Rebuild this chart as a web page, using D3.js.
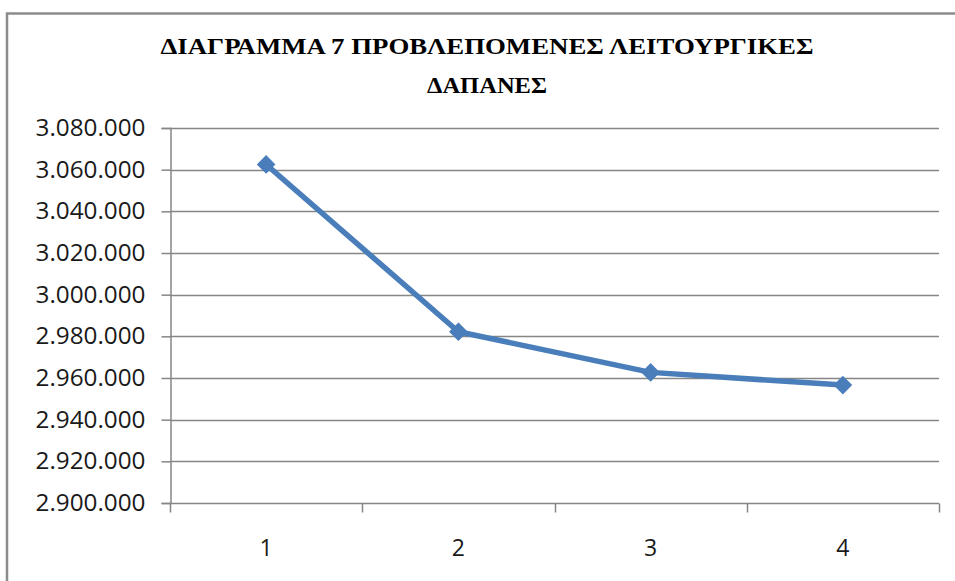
<!DOCTYPE html>
<html>
<head>
<meta charset="utf-8">
<script src="https://cdn.jsdelivr.net/npm/d3@7"></script>
<style>
  html, body { margin: 0; padding: 0; background: #fff; }
  svg { display: block; }
</style>
</head>
<body>
<svg id="chart" width="955" height="581"></svg>
<script>
// ---- data ----
const categories = ["1", "2", "3", "4"];
const values = [3062500, 2982200, 2962700, 2956600];
const yTicks = [2900000, 2920000, 2940000, 2960000, 2980000, 3000000, 3020000, 3040000, 3060000, 3080000];
const titleLines = ["ΔΙΑΓΡΑΜΜΑ 7 ΠΡΟΒΛΕΠΟΜΕΝΕΣ ΛΕΙΤΟΥΡΓΙΚΕΣ", "ΔΑΠΑΝΕΣ"];

// ---- layout ----
const svg = d3.select("#chart");
const plot = { left: 170, right: 939, top: 128, bottom: 503 };
const gridColor = "#868686";
const lineColor = "#4A7EBB";

// chart border (left + top visible)
svg.append("path")
  .attr("d", "M7,581 L7,13.5 L955,13.5")
  .attr("fill", "none")
  .attr("stroke", "#8c8c8c")
  .attr("stroke-width", 2.5);

// title
const title = svg.append("g").attr("font-family", "'Liberation Serif', 'Times New Roman', serif")
  .attr("font-weight", "bold").attr("font-size", 22.5).attr("fill", "#000");
const titleSpecs = [{ y: 53.5, w: 653 }, { y: 92.5, w: 120 }];
titleLines.forEach((t, i) => {
  title.append("text")
    .attr("x", 487).attr("y", titleSpecs[i].y)
    .attr("text-anchor", "middle")
    .attr("textLength", titleSpecs[i].w)
    .attr("lengthAdjust", "spacingAndGlyphs")
    .text(t);
});

// scales
const x = d3.scaleBand().domain(categories).range([plot.left, plot.right]).padding(0);
const y = d3.scaleLinear().domain([2900000, 3080000]).range([plot.bottom, plot.top]);
const locale = d3.formatLocale({ decimal: ",", thousands: ".", grouping: [3], currency: ["", "€"] });
const fmt = locale.format(",d");

// horizontal gridlines
svg.append("g").selectAll("line").data(yTicks.filter(d => d !== 2900000)).join("line")
  .attr("x1", plot.left).attr("x2", plot.right)
  .attr("y1", d => Math.round(y(d)) + 0.5).attr("y2", d => Math.round(y(d)) + 0.5)
  .attr("stroke", gridColor).attr("stroke-width", 1.5);

// y axis
const yAxis = svg.append("g")
  .attr("transform", `translate(${plot.left + 0.5},0)`)
  .call(d3.axisLeft(y).tickValues(yTicks).tickFormat(fmt).tickSize(9).tickPadding(16));
yAxis.select(".domain").attr("stroke", gridColor).attr("stroke-width", 1.5);
yAxis.selectAll(".tick line").attr("stroke", gridColor).attr("stroke-width", 1.5);
yAxis.selectAll(".tick text")
  .attr("font-family", "'Open Sans', 'DejaVu Sans', sans-serif")
  .attr("font-size", 23).attr("fill", "#1a1a1a")
  .attr("textLength", 110)
  .attr("lengthAdjust", "spacingAndGlyphs");

// x axis (ticks at category boundaries)
const xAxisG = svg.append("g").attr("transform", `translate(0,${plot.bottom + 0.5})`);
xAxisG.append("line")
  .attr("x1", plot.left).attr("x2", plot.right)
  .attr("stroke", gridColor).attr("stroke-width", 1.5);
const boundaries = categories.map(c => x(c)).concat([x(categories[categories.length - 1]) + x.bandwidth()]);
xAxisG.selectAll("line.tk").data(boundaries).join("line").attr("class", "tk")
  .attr("x1", d => Math.round(d) + 0.5).attr("x2", d => Math.round(d) + 0.5)
  .attr("y1", 0).attr("y2", 9)
  .attr("stroke", gridColor).attr("stroke-width", 1.5);
xAxisG.selectAll("text").data(categories).join("text")
  .attr("x", d => x(d) + x.bandwidth() / 2)
  .attr("y", 52)
  .attr("text-anchor", "middle")
  .attr("font-family", "'Open Sans', 'DejaVu Sans', sans-serif")
  .attr("font-size", 23).attr("fill", "#1a1a1a")
  .text(d => d);

// line series
const pts = categories.map((c, i) => [x(c) + x.bandwidth() / 2, y(values[i])]);
svg.append("path")
  .attr("d", d3.line()(pts))
  .attr("fill", "none")
  .attr("stroke", lineColor)
  .attr("stroke-width", 5.5)
  .attr("stroke-linejoin", "round");

// diamond markers
svg.append("g").selectAll("path").data(pts).join("path")
  .attr("transform", d => `translate(${d[0]},${d[1]})`)
  .attr("d", d3.symbol().type(d3.symbolDiamond2).size(160))
  .attr("fill", lineColor)
  .attr("stroke", lineColor)
  .attr("stroke-width", 2);
</script>
</body>
</html>
